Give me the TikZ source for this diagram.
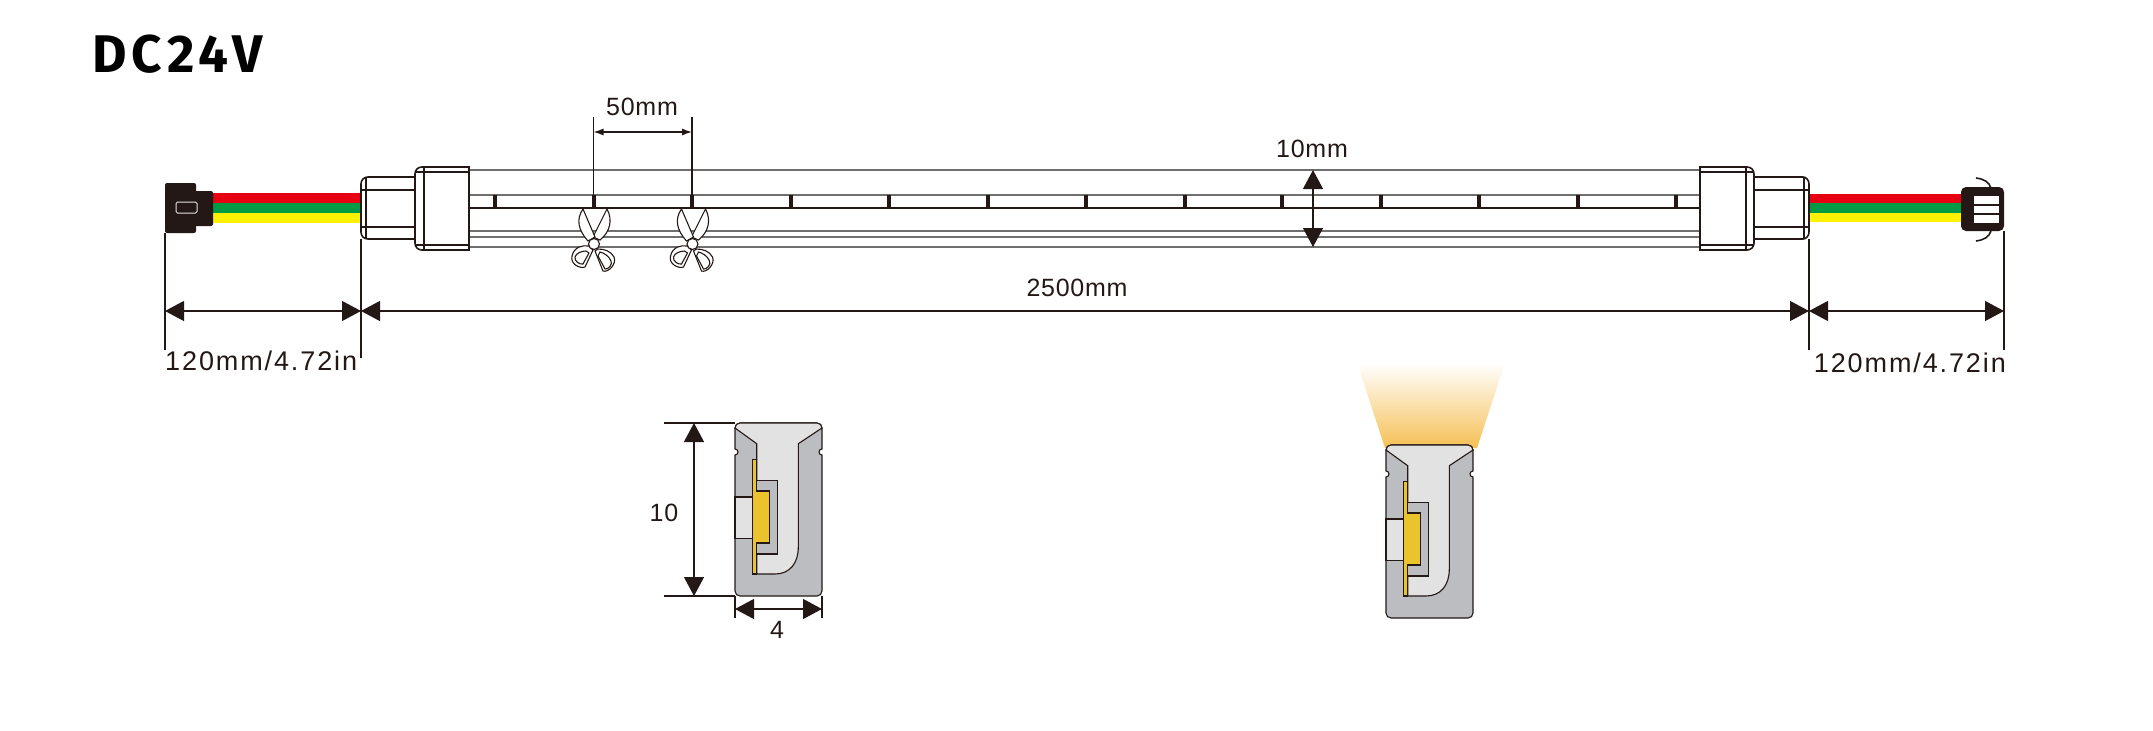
\documentclass[tikz,border=0pt]{standalone}
\usepackage{fontspec}
\setmainfont{Liberation Sans}
\newfontfamily\dimfont[LetterSpace=3]{Liberation Sans}
\newfontfamily\longfont[LetterSpace=7]{Liberation Sans}
\newfontfamily\headfont[LetterSpace=9.5]{Fira Sans}
\usetikzlibrary{arrows.meta, positioning}
\definecolor{inkdark}{HTML}{231815}
\definecolor{tubegrey}{HTML}{6F6F6F}
\definecolor{bodygrey}{HTML}{BCBDC0}
\definecolor{lightgrey}{HTML}{E2E2E3}
\definecolor{pcbyellow}{HTML}{EBC42D}
\definecolor{glowyellow}{HTML}{F5C055}
\definecolor{wirered}{HTML}{E60012}
\definecolor{wiregreen}{HTML}{009944}
\definecolor{wireyellow}{HTML}{FFF100}

\begin{document}
\begin{tikzpicture}
[x=1pt, y=-1pt,
thin line/.style={draw=inkdark, line width=1.1pt},
outline/.style={draw=inkdark, line width=1.6pt},
rail/.style={draw=tubegrey, line width=2pt},
dimension/.style={draw=inkdark, line width=1.2pt, {Triangle[length=19pt,width=20pt,inkdark]}-{Triangle[length=19pt,width=20pt,inkdark]}},
small dimension/.style={draw=inkdark, line width=1.2pt, {Latex[length=10pt,width=7pt,inkdark]}-{Latex[length=10pt,width=7pt,inkdark]}},
label/.style={font=\dimfont\fontsize{25}{25}\selectfont, text=inkdark, inner sep=0pt},
long label/.style={font=\longfont\fontsize{27}{27}\selectfont, text=inkdark, inner sep=0pt},
section/.pic={
  \draw[fill=bodygrey, thin line] (5,0) -- (82,0) arc[start angle=90,end angle=0,radius=5pt] -- (87,26)
    arc[start angle=90,end angle=270,radius=3pt] -- (87,168) arc[start angle=0,end angle=-90,radius=5pt]
    -- (5,173) arc[start angle=270,end angle=180,radius=5pt] -- (0,32)
    arc[start angle=270,end angle=450,radius=3pt] -- (0,5) arc[start angle=180,end angle=90,radius=5pt] -- cycle;
  \draw[fill=lightgrey, thin line] (0,5) arc[start angle=180,end angle=90,radius=5pt] -- (82,0)
    arc[start angle=90,end angle=0,radius=5pt] -- (63.3,20.7) -- (63.3,124)
    .. controls (63.3,140) and (55,151) .. (40,151) -- (21.7,151) -- (21.7,20.7) -- cycle;
  \draw[fill=bodygrey, thin line] (21.7,57.7) rectangle (42.3,131);
  \draw[fill=lightgrey, thin line] (0,74) rectangle (17.3,115.7);
  \draw[fill=pcbyellow, thin line] (17.3,36.7) rectangle (21.7,151);
  \draw[fill=pcbyellow, thin line] (21.7,68) rectangle (34.3,120);
  \fill[pcbyellow] (20.5,68.6) rectangle (22.5,119.4);
},
scissor/.pic={
  \draw[fill=white, thin line] (-1,-7) -- (13,-35) .. controls (19,-24) and (16,-12) .. (6,-4) -- cycle;
  \draw[fill=white, thin line] (1,-7) -- (-11,-35) .. controls (-18,-25) and (-16,-14) .. (-6,-3) -- cycle;
  \draw[fill=white, thin line] (-5,2) .. controls (-12,1) and (-20,3) .. (-22,12) .. controls (-24,20) and (-14,25) .. (-9,23) -- (-1,6) -- cycle;
  \draw[thin line] (-8,7) .. controls (-12,7) and (-18,9) .. (-19,13) .. controls (-20,17) and (-14,21) .. (-11,20) -- (-5,9) -- cycle;
  \draw[fill=white, thin line] (4,5) .. controls (10,5) and (17,7) .. (20,13) .. controls (23,20) and (14,29) .. (9,27) -- (1,7) -- cycle;
  \draw[thin line] (6,8) .. controls (10,9) and (15,12) .. (17,17) .. controls (19,20) and (14,26) .. (11,25) -- (4,12) -- cycle;
  \draw[fill=white, thin line] (0,0) circle[radius=5.5pt];
}]

\useasboundingbox (0,0) rectangle (2153,731);

% title
\node[font=\headfont\bfseries\fontsize{53}{53}\selectfont, anchor=base west, inner sep=0pt] (title) at (92,72) {DC24V};

% wires
\fill[wirered] (213,193) rectangle (361,203);
\fill[wiregreen] (213,203) rectangle (361,213);
\fill[wireyellow] (213,213) rectangle (361,223);
\fill[wirered] (1809,194) rectangle (1961,203);
\fill[wiregreen] (1809,203) rectangle (1961,213);
\fill[wireyellow] (1809,213) rectangle (1961,222);

% left plug
\fill[inkdark, rounded corners=2pt] (165,183) rectangle (196,233);
\fill[inkdark, rounded corners=2pt] (190,191) rectangle (213,226);
\draw[draw=lightgrey, fill=inkdark, line width=1pt, rounded corners=1.5pt] (176,202) rectangle (197,213);

% right plug
\fill[inkdark, rounded corners=5pt] (1961,187) rectangle (2004,231);
\fill[white] (1974,196) rectangle (1999,204);
\fill[white] (1974,206) rectangle (1999,213);
\fill[white] (1974,215) rectangle (1999,223);
\draw[outline] (1976,178) .. controls (1984,179) and (1989,182) .. (1991,188);
\draw[outline] (1976,241) .. controls (1984,240) and (1989,237) .. (1991,231);

% rails of the strip
\draw[rail] (469,170) -- (1700,170);
\draw[rail] (469,195) -- (1700,195);
\draw[outline] (469,208) -- (1700,208);
\draw[rail] (469,231) -- (1700,231);
\draw[rail] (469,237) -- (1700,237);
\draw[rail] (469,247) -- (1700,247);
\foreach \cutx in {495,593.5,692,790.5,889,987.5,1086,1184.5,1282,1380.5,1479,1577.5,1676}
  \fill[inkdark] (\cutx-2,195) rectangle (\cutx+2,208);

% left end cap
\draw[outline] (415,177) -- (368,177) .. controls (364,177) and (361,180) .. (361,184) -- (361,232) .. controls (361,236) and (364,239) .. (368,239) -- (415,239);
\draw[outline] (366,177) -- (366,239);
\draw[thin line] (361,190) -- (415,190);
\draw[thin line] (361,227) -- (415,227);
\draw[outline, fill=white] (469,167) -- (422,167) .. controls (418,167) and (415,170) .. (415,174) -- (415,243) .. controls (415,247) and (418,250) .. (422,250) -- (469,250) -- cycle;
\draw[outline] (424,167) -- (424,250);
\draw[thin line] (415,172) -- (469,172);
\draw[thin line] (415,245) -- (469,245);

% right end cap
\draw[outline] (1754,177) -- (1803,177) .. controls (1806,177) and (1809,180) .. (1809,184) -- (1809,232) .. controls (1809,236) and (1806,239) .. (1803,239) -- (1754,239);
\draw[outline] (1804,177) -- (1804,239);
\draw[thin line] (1754,190) -- (1809,190);
\draw[thin line] (1754,227) -- (1809,227);
\draw[outline, fill=white] (1700,167) -- (1747,167) .. controls (1751,167) and (1754,170) .. (1754,174) -- (1754,243) .. controls (1754,247) and (1751,250) .. (1747,250) -- (1700,250) -- cycle;
\draw[outline] (1746,167) -- (1746,250);
\draw[thin line] (1700,172) -- (1754,172);
\draw[thin line] (1700,245) -- (1754,245);

% scissors
\pic (cutleft) at (594,244) {scissor};
\pic (cutright) at (692.5,244) {scissor};

% 50mm
\coordinate (cuta) at (593.5,132);
\coordinate (cutb) at (692,132);
\draw[thin line] (593.5,117) -- (593.5,197);
\draw[thin line] (692,117) -- (692,197);
\draw[small dimension] (cuta) -- (cutb);
\node[label] (pitch) at (642,107) {50mm};

% 10mm
\coordinate (widetop) at (1313,170);
\coordinate (widebot) at (1313,247);
\draw[dimension] (widetop) -- (widebot);
\node[label] (width) at (1312,149) {10mm};

% lengths
\coordinate (lena) at (165,311);
\coordinate (lenb) at (361,311);
\coordinate (lenc) at (1809,311);
\coordinate (lend) at (2004,311);
\draw[thin line] (165,233) -- (165,350);
\draw[thin line] (361,239) -- (361,358);
\draw[thin line] (1809,239) -- (1809,350);
\draw[thin line] (2004,231) -- (2004,350);
\draw[dimension] (lena) -- (lenb);
\draw[dimension] (lenb) -- (lenc);
\draw[dimension] (lenc) -- (lend);
\node[label] (length) at (1077,288) {2500mm};
\node[long label, anchor=base west] (leadleft) at (165,370) {120mm/4.72in};
\node[long label, anchor=base east] (leadright) at (2006,372) {120mm/4.72in};

% sections
\pic (secleft) at (735,423) {section};
\shade[top color=white, bottom color=glowyellow] (1357,363) -- (1505,363) -- (1477,448) -- (1385,448) -- cycle;
\pic (secright) at (1386,445) {section};

% section dimensions
\coordinate (hia) at (694,423);
\coordinate (hib) at (694,596);
\coordinate (wia) at (735,609);
\coordinate (wib) at (822,609);
\draw[thin line] (664,423) -- (735,423);
\draw[thin line] (664,596) -- (735,596);
\draw[thin line] (735,596) -- (735,618);
\draw[thin line] (822,596) -- (822,618);
\draw[dimension] (hia) -- (hib);
\draw[dimension] (wia) -- (wib);
\node[label] (ten) at (664,513) {10};
\node[label] (four) at (777,630) {4};

\end{tikzpicture}
\end{document}
